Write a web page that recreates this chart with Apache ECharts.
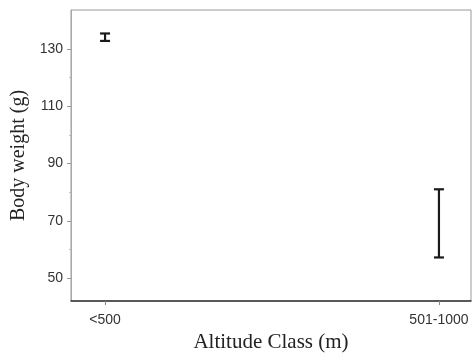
<!DOCTYPE html>
<html>
<head>
<meta charset="utf-8">
<script src="https://cdn.jsdelivr.net/npm/echarts@6/dist/echarts.min.js"></script>
<style>
  html, body { margin: 0; padding: 0; background: #fff; }
  #chart { width: 472px; height: 354px; }
</style>
</head>
<body>
<div id="chart"></div>
<script>
// Altitude classes and body-weight ranges (g) shown as error bars
var categories = ['<500', '501-1000'];
var lowerBound = [132.8, 57.2];
var upperBound = [135.4, 81.0];

// Axis ticks
var yMajorTicks = [50, 70, 90, 110, 130];
var yMinorTicks = [60, 80, 100, 120];

var chart = echarts.init(document.getElementById('chart'), null, { renderer: 'canvas' });

var barData = categories.map(function (c, i) { return [i, lowerBound[i], upperBound[i]]; });

var serifFont = '"Liberation Serif", "DejaVu Serif", serif';
var sansFont = '"Liberation Sans", Arial, sans-serif';

var yRange = { min: 42, max: 143.6 };

chart.setOption({
  animation: false,
  backgroundColor: '#ffffff',
  grid: {
    left: 71, right: 1, top: 10, bottom: 53,
    containLabel: false,
    outerBoundsMode: 'none',
    show: true, borderColor: '#9a9a9a', borderWidth: 1
  },
  xAxis: {
    type: 'value',
    min: -0.102, max: 1.096,
    name: 'Altitude Class (m)',
    nameLocation: 'middle',
    nameGap: 29,
    nameTextStyle: { fontFamily: serifFont, fontSize: 21, color: '#222' },
    splitLine: { show: false },
    axisLine: { show: true, onZero: false, lineStyle: { color: '#333', width: 1.5 } },
    axisTick: { show: true, length: 4, customValues: [0, 1], lineStyle: { color: '#888' } },
    axisLabel: {
      customValues: [0, 1],
      margin: 12,
      fontFamily: sansFont, fontSize: 14, color: '#333',
      formatter: function (v) { return categories[Math.round(v)]; }
    }
  },
  yAxis: [
    {
      type: 'value',
      min: yRange.min, max: yRange.max,
      name: 'Body weight (g)',
      nameLocation: 'middle',
      nameGap: 38,
      nameTextStyle: { fontFamily: serifFont, fontSize: 20, color: '#222' },
      splitLine: { show: false },
      axisLine: { show: true, onZero: false, lineStyle: { color: '#a8a8a8', width: 1 } },
      axisTick: { show: true, length: 4, customValues: yMajorTicks, lineStyle: { color: '#999' } },
      axisLabel: {
        customValues: yMajorTicks,
        margin: 8,
        fontFamily: sansFont, fontSize: 14, color: '#333'
      }
    },
    {
      type: 'value',
      position: 'left',
      min: yRange.min, max: yRange.max,
      splitLine: { show: false },
      axisLine: { show: false, onZero: false },
      axisTick: { show: true, length: 2, customValues: yMinorTicks, lineStyle: { color: '#bbb' } },
      axisLabel: { show: false }
    }
  ],
  series: [{
    type: 'custom',
    data: barData,
    encode: { x: 0, y: [1, 2] },
    renderItem: function (params, api) {
      var x = api.value(0);
      var lo = api.coord([x, api.value(1)]);
      var hi = api.coord([x, api.value(2)]);
      var half = 5;
      var style = { stroke: '#1a1a1a', lineWidth: 2.2 };
      return {
        type: 'group',
        children: [
          { type: 'line', shape: { x1: lo[0], y1: lo[1], x2: hi[0], y2: hi[1] }, style: style },
          { type: 'line', shape: { x1: hi[0] - half, y1: hi[1], x2: hi[0] + half, y2: hi[1] }, style: style },
          { type: 'line', shape: { x1: lo[0] - half, y1: lo[1], x2: lo[0] + half, y2: lo[1] }, style: style }
        ]
      };
    }
  }]
});
</script>
</body>
</html>
